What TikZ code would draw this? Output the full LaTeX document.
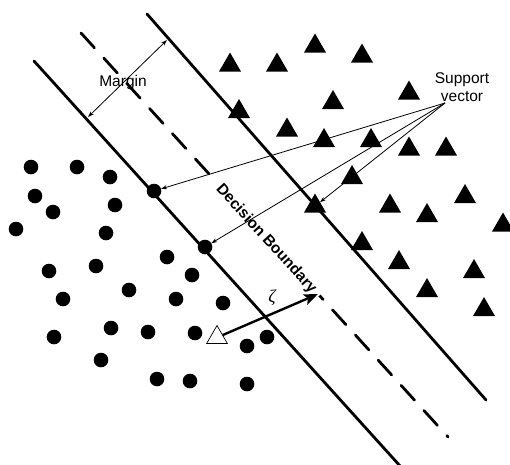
\documentclass[tikz,border=0pt]{standalone}
\usepackage{fontspec}
\setmainfont{Liberation Sans}
\newfontfamily\zetafont{Liberation Serif}
\usetikzlibrary{shapes.geometric,arrows.meta}
\begin{document}
\begin{tikzpicture}[x=1pt,y=-1pt,
  dot/.style={circle,fill=black,inner sep=0pt,outer sep=0pt,minimum size=14.6pt},
  tri/.style={regular polygon,regular polygon sides=3,fill=black,inner sep=0pt,outer sep=0pt,minimum size=25.4pt},
  bound/.style={line width=2.8pt,line cap=round},
  thinline/.style={line width=0.8pt},
  small tip/.style={-{Stealth[length=6pt,width=4pt]}},
  lbl/.style={font=\fontsize{15.5}{18.5}\selectfont}]
\useasboundingbox (0,0) rectangle (510,464);
% boundaries
\draw[bound] (34,61) -- (401,467);
\draw[bound] (147,14) -- (486,400);
\draw[bound, dash pattern=on 20pt off 14pt] (81,33) -- (448,437);
\node[lbl, font=\fontsize{15.5}{18.5}\selectfont\bfseries, fill=white, inner ysep=1pt, inner xsep=7pt, rotate=-47.7] (db) at (266,239) {Decision Boundary};
% circles
\foreach \x/\y [count=\i] in {31/167,77/167,110/177,35/196,53/212,115/205,16/229,106/233,
  167/257,49/271,96/266,192/275,63/299,129/290,176/299,223/303,54/337,111/328,148/332,
  195/333,247/346,101/360,157/379,190/381,247/384,267/337}
  \node[dot] (c\i) at (\x,\y) {};
\node[dot] (sva) at (154,191) {};
\node[dot] (svb) at (205,247) {};
% triangles
\foreach \x/\y [count=\i] in {230/62,277/62,315/43,362/53,239/108.5,287/127,333/99.5,409/90,
  324/137.5,371/137.5,409/146,446/146,352/174.5,390/203,427/212.5,465/193.5,503/222,
  362/240.5,399/259.5,474/268.5,427/287.5,484/306.5}
  \node[tri] (t\i) at (\x,{\y+3.2}) {};
\node[tri] (svc) at (315,206.2) {};
% test triangle
\node[tri, fill=white, draw=black, line width=0.7pt, minimum size=24pt] (ht) at (217,337.5) {};
% margin
\coordinate (m1) at (88,117);
\coordinate (m2) at (167,40);
\draw[thinline,{Stealth[length=6pt,width=4pt]}-{Stealth[length=6pt,width=4pt]}] (m1) -- (m2);
\node[lbl] (margin) at (123,82) {Margin};
% support vectors
\node[lbl, align=center] (sv) at (462,87) {Support\\vector};
\coordinate (svp) at (445,103);
\draw[thinline, small tip] (svp) -- (sva);
\draw[thinline, small tip] (svp) -- (svb);
\draw[thinline, small tip] (svp) -- (svc);
% zeta arrow
\coordinate (zt) at (318,294);
\draw[line width=2.4pt, -{Stealth[length=14pt,width=11pt,inset=3pt]}] (ht) -- (zt);
\node[inner sep=0pt] (zeta) at (272,298) {\zetafont\itshape\fontsize{18}{20}\selectfont ζ};
\end{tikzpicture}
\end{document}
